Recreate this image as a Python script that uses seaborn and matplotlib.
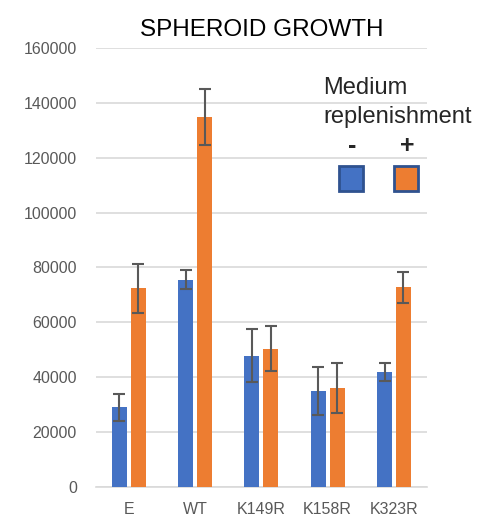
import numpy as np
import pandas as pd
import seaborn as sns
import matplotlib.pyplot as plt
from matplotlib.patches import Rectangle

# values
groups = ['E', 'WT', 'K149R', 'K158R', 'K323R']
minus_vals = [29000, 75500, 47800, 34900, 41800]
plus_vals = [72400, 134700, 50300, 36100, 72700]
minus_err = [4900, 3500, 9700, 8800, 3300]
plus_err = [9000, 10200, 8200, 9050, 5600]

blue = '#4472C4'
orange = '#ED7D31'
grey_txt = '#595959'

df = pd.DataFrame({
    'group': groups * 2,
    'growth': minus_vals + plus_vals,
    'err': minus_err + plus_err,
    'medium': ['-'] * len(groups) + ['+'] * len(groups),
})

sns.set_style('white')
plt.rcParams['font.family'] = ['Liberation Sans', 'DejaVu Sans']

fig = plt.figure(figsize=(4.87, 5.19), dpi=100)
ax = fig.add_axes([0.1965, 0.0622, 0.6805, 0.8453])

sns.barplot(data=df, x='group', y='growth', hue='medium', order=groups,
            hue_order=['-', '+'], palette=[blue, orange], width=0.57, gap=0.21,
            saturation=1, linewidth=0, errorbar=None, legend=False, ax=ax, zorder=3)

# error bars at the bar centres
for patch_set, errs in zip([ax.patches[:5], ax.patches[5:10]], [minus_err, plus_err]):
    xs = [p.get_x() + p.get_width() / 2 for p in patch_set]
    ys = [p.get_height() for p in patch_set]
    ax.errorbar(xs, ys, yerr=errs, fmt='none', ecolor=grey_txt,
                elinewidth=1.5, capsize=4, capthick=1.5, zorder=4)

ax.set_ylim(0, 160000)
ax.set_xlim(-0.5, 4.5)
ax.set_yticks(np.arange(0, 160001, 20000))
ax.yaxis.grid(True, color='#D9D9D9', linewidth=1.2, zorder=0)
ax.set_axisbelow(True)
for s in ['top', 'right', 'left']:
    ax.spines[s].set_visible(False)
ax.spines['bottom'].set_color('#D9D9D9')
ax.spines['bottom'].set_linewidth(1.2)
ax.tick_params(axis='y', length=0, pad=13.5, labelsize=11.5, labelcolor=grey_txt)
ax.tick_params(axis='x', length=0, pad=11, labelsize=11.5, labelcolor=grey_txt)
ax.set_xlabel('')
ax.set_ylabel('')
ax.set_title('SPHEROID GROWTH', fontsize=17.5, color='black', pad=9)

# legend drawn by hand
fig.text(323 / 487, 1 - 88 / 519, 'Medium', fontsize=17, va='center', ha='left')
fig.text(323 / 487, 1 - 117 / 519, 'replenishment', fontsize=17, va='center', ha='left')
fig.text(352 / 487, 1 - 146 / 519, '-', fontsize=18, va='center', ha='center', fontweight='bold')
fig.text(407 / 487, 1 - 146 / 519, '+', fontsize=18, va='center', ha='center', fontweight='bold')
for x0, c in [(339, blue), (394, orange)]:
    fig.patches.append(Rectangle((x0 / 487, 1 - 191 / 519), 24 / 487, 25 / 519,
                                 transform=fig.transFigure, facecolor=c,
                                 edgecolor='#2F528F', linewidth=2))

fig.savefig('out.png', dpi=100)
